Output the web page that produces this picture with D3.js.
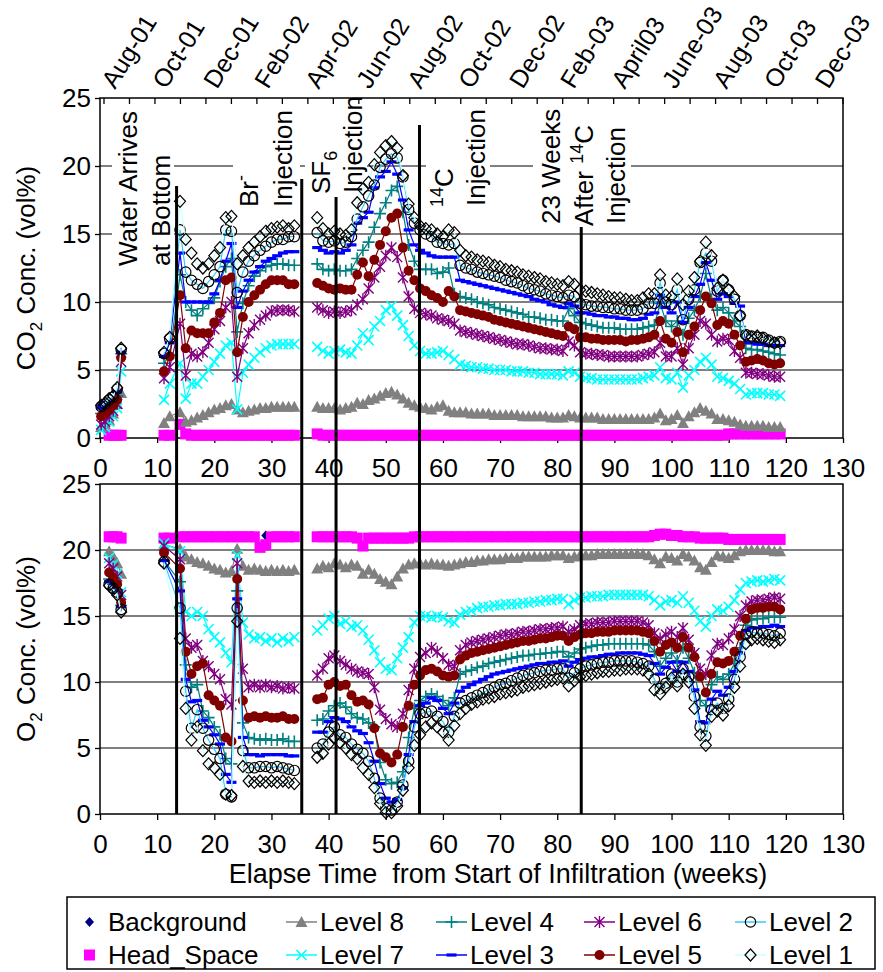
<!DOCTYPE html>
<html>
<head>
<meta charset="utf-8">
<script src="https://cdn.jsdelivr.net/npm/d3@7"></script>
<style>
  body { margin: 0; background: #fff; }
  svg text { font-family: "Liberation Sans", Arial, sans-serif; fill: #000; }
</style>
</head>
<body>
<svg id="chart" width="883" height="972"></svg>
<script>
// ---- sampling times (weeks since start of infiltration) ----
const weeks = [
  0.2, 0.9, 1.6, 2.3, 3.0, 3.7,
  11.2, 12.2,
  14, 15, 16, 17, 18, 19, 20, 21, 22, 23, 24, 25, 26, 27, 28, 29, 30, 31, 32, 33, 34,
  38, 39,
  40, 41, 42, 43, 44, 45, 46, 47, 48, 49,
  50, 51, 52, 53, 54, 55, 56, 57, 58, 59,
  60, 61, 62, 63, 64, 65, 66, 67, 68, 69,
  70, 71, 72, 73, 74, 75, 76, 77, 78, 79,
  80, 81, 82, 83, 84, 85, 86, 87, 88, 89,
  90, 91, 92, 93, 94, 95, 96, 97, 98, 99,
  100, 101, 102, 103, 104, 105, 106, 107, 108, 109,
  110, 111, 112, 113, 114, 115, 116, 117, 118, 119
];

// ---- CO2 concentration (vol%) ----
const co2Background = [2.4, 2.3];
const co2HeadSpace = [
  null, null, 0.2, 0.2, 0.2, 0.2,  0.2, 0.2,
  1.0, 0.3, 0.2, 0.2, 0.2, 0.2, 0.2, 0.2, 0.2, 0.2,  0.2, 0.2, 0.2, 0.2, 0.2, 0.2, 0.2, 0.2, 0.2, 0.2,  0.2,
  0.3, 0.2,
  0.2, 0.2, 0.2, 0.2, 0.2, 0.2, 0.2, 0.2, 0.2, 0.2,
  0.2, 0.2, 0.2, 0.2, 0.2, 0.2, 0.2, 0.2, 0.2, 0.2,
  0.2, 0.2, 0.2, 0.2, 0.2, 0.2, 0.2, 0.2, 0.2, 0.2,
  0.2, 0.2, 0.2, 0.2, 0.2, 0.2, 0.2, 0.2, 0.2, 0.2,
  0.2, 0.2, 0.2, 0.2, 0.2, 0.2, 0.2, 0.2, 0.2, 0.2,
  0.2, 0.2, 0.2, 0.2, 0.2, 0.2, 0.2, 0.2, 0.2, 0.2,
  0.2, 0.2, 0.2, 0.2, 0.2, 0.2, 0.2, 0.2, 0.2, 0.2,
  0.3, 0.3, 0.3, 0.3, 0.3, 0.3, 0.3, 0.3, 0.3, 0.3
];
const co2Level8 = [
  0.8, 1.0, 1.3, 1.8, 2.5, 3.3,  1.1, 1.6,
  1.9, 1.2, 1.3, 1.5, 1.7, 1.9, 2.1, 2.2, 2.4, 2.5,  2.1, 1.9, 2.0, 2.1, 2.2, 2.2, 2.3, 2.3, 2.3, 2.3,  2.3,
  2.3, 2.2,
  2.2, 2.2, 2.1, 2.2, 2.3, 2.6, 2.5, 2.8, 2.9, 3.1,
  3.3, 3.4, 3.2, 2.9, 2.6, 2.4, 2.3, 2.2, 2.1, 2.3,
  2.4, 2.0, 1.9, 1.9, 1.9, 1.8, 1.8, 1.8, 1.8, 1.7,
  1.7, 1.7, 1.7, 1.7, 1.6, 1.6, 1.6, 1.6, 1.6, 1.5,
  1.5, 1.5, 1.7, 1.6, 1.5, 1.5, 1.5, 1.5, 1.4, 1.4,
  1.4, 1.4, 1.4, 1.4, 1.4, 1.4, 1.4, 1.5, 1.8, 1.3,
  1.4, 1.7, 1.1, 1.6, 1.9, 2.2, 2.0, 1.8, 1.4, 1.4,
  1.3, 1.2, 1.0, 0.9, 0.9, 0.9, 0.9, 0.8, 0.8, 0.8
];
const co2Level7 = [
  0.6, 0.8, 1.2, 1.6, 2.2, 4.9,  2.8, 4.0,
  5.5, 2.9, 4.0, 4.0, 4.5, 5.0, 5.6, 6.2, 6.8, 7.0,  2.1, 4.8, 5.4, 5.9, 6.3, 6.6, 6.8, 6.9, 6.9, 6.9,  6.9,
  6.7, 6.4,
  6.2, 6.4, 6.5, 6.3, 6.2, 6.8, 7.7, 7.2, 8.2, 8.6,
  9.4, 9.7, 9.0, 8.3, 7.5, 6.8, 6.4, 6.2, 6.2, 6.3,
  6.4, 6.1, 5.8, 5.4, 5.3, 5.2, 5.2, 5.1, 5.1, 5.0,
  5.0, 5.0, 4.9, 4.9, 4.9, 4.8, 4.8, 4.7, 4.7, 4.7,
  4.7, 4.6, 4.9, 4.8, 4.5, 4.4, 4.4, 4.3, 4.3, 4.3,
  4.3, 4.3, 4.3, 4.3, 4.3, 4.4, 4.5, 4.6, 5.2, 4.4,
  4.3, 4.8, 3.7, 4.6, 5.0, 5.6, 5.9, 5.4, 4.5, 4.4,
  4.2, 4.0, 3.6, 3.2, 3.3, 3.3, 3.3, 3.2, 3.2, 3.1
];
const co2Level4 = [
  1.8, 2.0, 2.3, 2.6, 3.1, 6.2,  5.5, 6.1,
  12.0, 10.0, 9.4, 9.0, 9.5, 9.9, 10.3, 11.5, 12.6, 13.2,  7.8, 9.9, 11.2, 11.9, 12.3, 12.6, 12.7, 12.8, 12.8, 12.7,  12.7,
  12.8, 12.4,
  12.3, 12.4, 12.3, 12.3, 12.4, 13.2, 13.8, 14.4, 15.5, 16.5,
  17.3, 18.2, 18.5, 16.6, 14.2, 13.0, 12.4, 12.4, 12.4, 12.1,
  12.2, 12.5, 10.6, 10.4, 10.3, 10.2, 10.0, 9.9, 9.8, 9.6,
  9.5, 9.4, 9.3, 9.2, 9.1, 8.9, 8.9, 8.8, 8.7, 8.7,
  8.6, 8.6, 9.5, 9.0, 8.5, 8.4, 8.3, 8.2, 8.1, 8.1,
  8.1, 8.0, 8.0, 8.0, 8.0, 8.1, 8.2, 8.3, 9.9, 8.6,
  8.2, 8.6, 7.6, 8.8, 9.4, 10.4, 12.1, 10.2, 9.4, 9.6,
  9.2, 8.6, 8.2, 6.6, 6.5, 6.5, 6.4, 6.3, 6.2, 6.1
];
const co2Level3 = [
  2.2, 2.3, 2.6, 2.9, 3.4, 6.3,  6.0, 7.0,
  13.6, 10.0, 10.0, 10.0, 10.0, 10.0, 10.6, 11.6, 13.0, 14.3,  9.6, 10.8, 11.6, 12.2, 12.6, 13.0, 13.2, 13.4, 13.6, 13.7,  13.7,
  14.0, 13.8,
  13.6, 13.7, 13.6, 13.8, 14.2, 15.8, 16.2, 16.6, 18.4, 19.2,
  19.6, 20.3, 19.4, 17.5, 15.3, 14.2, 13.8, 13.6, 13.4, 13.3,
  13.3, 13.3, 13.3, 11.6, 11.5, 11.4, 11.3, 11.2, 11.1, 11.0,
  10.9, 10.8, 10.7, 10.6, 10.5, 10.4, 10.2, 10.1, 10.0, 9.8,
  9.7, 9.6, 9.9, 9.7, 9.2, 9.2, 9.1, 9.0, 9.0, 8.9,
  8.9, 8.8, 8.8, 8.7, 8.7, 8.8, 9.1, 9.2, 10.5, 9.6,
  9.2, 10.0, 8.5, 9.6, 10.4, 11.3, 12.9, 11.6, 10.2, 10.6,
  10.4, 9.9, 9.7, 7.0, 7.0, 6.9, 6.9, 6.8, 6.8, 6.8
];
const co2Level6 = [
  1.0, 1.2, 1.6, 2.0, 2.5, 5.6,  4.4, 5.2,
  8.4, 4.6, 6.2, 6.0, 6.3, 7.0, 8.0, 8.6, 9.6, 10.0,  4.5, 6.6, 7.7, 8.3, 8.7, 9.0, 9.3, 9.4, 9.4, 9.4,  9.3,
  9.6, 9.4,
  9.2, 9.3, 9.2, 9.3, 9.4, 9.8, 10.2, 11.0, 11.8, 12.6,
  13.4, 14.0, 13.3, 11.8, 10.4, 9.5, 9.2, 9.1, 9.0, 8.8,
  8.7, 8.6, 8.4, 7.9, 7.8, 7.7, 7.6, 7.5, 7.4, 7.3,
  7.2, 7.1, 7.0, 6.9, 6.9, 6.8, 6.7, 6.6, 6.6, 6.5,
  6.5, 6.4, 7.1, 6.8, 6.3, 6.2, 6.2, 6.1, 6.1, 6.0,
  6.0, 6.0, 6.0, 6.0, 6.0, 6.1, 6.2, 6.3, 7.0, 6.0,
  6.0, 6.6, 5.4, 6.6, 7.6, 8.6, 8.4, 7.6, 7.1, 7.3,
  7.2, 6.4, 5.9, 4.8, 4.8, 4.7, 4.7, 4.6, 4.5, 4.5
];
const co2Level5 = [
  1.6, 1.8, 2.1, 2.4, 2.8, 5.9,  4.9, 6.0,
  10.5, 6.6, 7.9, 7.7, 7.7, 7.7, 8.5, 9.2, 11.6, 11.8,  6.3, 8.9, 10.0, 10.5, 10.9, 11.3, 11.6, 11.6, 11.6, 11.3,  11.3,
  11.4, 11.2,
  11.0, 10.9, 11.0, 10.9, 10.9, 12.0, 12.9, 11.9, 13.1, 14.2,
  15.2, 16.2, 16.5, 14.0, 12.3, 11.6, 11.0, 10.8, 10.5, 10.3,
  10.0, 10.8, 10.4, 9.4, 9.3, 9.2, 9.1, 9.0, 8.9, 8.7,
  8.6, 8.5, 8.4, 8.3, 8.2, 8.1, 8.0, 7.9, 7.8, 7.7,
  7.6, 7.5, 8.2, 8.0, 7.4, 7.4, 7.3, 7.3, 7.2, 7.2,
  7.2, 7.2, 7.1, 7.2, 7.2, 7.3, 7.4, 7.6, 8.6, 7.3,
  7.0, 7.8, 6.3, 7.6, 8.2, 9.4, 10.4, 9.9, 8.3, 8.6,
  8.4, 7.6, 6.8, 5.6, 5.7, 5.8, 5.7, 5.5, 5.4, 5.5
];
const co2Level2 = [
  2.3, 2.5, 2.8, 3.0, 3.6, 6.5,  6.2, 7.3,
  15.3, 12.2, 11.6, 11.3, 11.0, 11.5, 12.0, 12.6, 15.3, 15.2,  10.7, 12.2, 13.0, 13.4, 13.8, 14.1, 14.4, 14.6, 14.6, 14.8,  14.8,
  15.1, 14.5,
  14.4, 14.5, 14.3, 14.4, 14.8, 16.1, 17.0, 17.8, 18.6, 19.9,
  20.5, 20.9, 20.6, 19.2, 16.8, 15.8, 15.3, 15.0, 14.8, 14.4,
  14.3, 14.2, 14.3, 12.7, 12.5, 12.4, 12.2, 12.1, 12.0, 11.9,
  11.8, 11.6, 11.5, 11.4, 11.2, 11.0, 10.9, 10.8, 10.6, 10.5,
  10.4, 10.3, 10.5, 10.4, 9.9, 9.8, 9.7, 9.7, 9.6, 9.6,
  9.5, 9.5, 9.4, 9.4, 9.4, 9.5, 9.9, 9.9, 11.4, 10.0,
  9.8, 10.9, 8.7, 10.2, 10.9, 12.9, 13.6, 13.0, 10.8, 11.6,
  10.9, 10.2, 9.0, 7.6, 7.5, 7.4, 7.4, 7.2, 7.0, 7.1
];
const co2Level1 = [
  2.4, 2.6, 2.9, 3.1, 3.7, 6.6,  6.3, 7.4,
  17.4, 14.6, 13.6, 12.8, 12.5, 12.8, 13.4, 14.0, 16.2, 16.3,  12.8, 13.4, 14.0, 14.4, 14.8, 15.2, 15.4, 15.5, 15.6, 15.4,  15.6,
  16.2, 15.4,
  15.0, 15.2, 15.0, 14.9, 15.3, 17.3, 18.3, 18.8, 20.1, 21.0,
  21.5, 21.8, 21.3, 19.3, 17.2, 16.2, 15.6, 15.4, 15.3, 15.0,
  14.8, 15.3, 15.1, 13.8, 13.4, 13.3, 13.1, 13.0, 12.9, 12.7,
  12.6, 12.4, 12.3, 12.2, 12.0, 11.9, 11.8, 11.7, 11.5, 11.4,
  11.3, 11.2, 11.5, 11.3, 10.9, 10.8, 10.7, 10.6, 10.5, 10.4,
  10.3, 10.3, 10.2, 10.1, 10.1, 10.3, 10.6, 10.6, 12.0, 10.5,
  10.4, 11.7, 9.8, 10.8, 11.8, 13.0, 14.4, 13.4, 11.0, 11.6,
  10.9, 10.4, 9.0, 7.5, 7.4, 7.5, 7.3, 7.1, 7.0, 7.0
];

// ---- O2 concentration (vol%) ----
const o2Background = [
  null, null, null, null, null, null,  null, null,
  null, null, null, null, null, null, null, null, null, null,  null, null, null, null, null, 21.1
];
const o2HeadSpace = [
  null, null, 21.0, 21.0, 21.0, 20.9,  20.9, 20.9,
  21.0, 21.0, 21.0, 21.0, 21.0, 21.0, 21.0, 21.0, 21.0, 21.0,  21.0, 21.0, 21.0, 21.0, 20.2, 20.4, 21.0, 21.0, 21.0, 21.0,  21.0,
  21.0, 21.0,
  21.0, 21.0, 21.0, 21.0, 21.0, 20.9, 20.3, 20.9, 20.9, 20.9,
  20.9, 20.9, 20.9, 20.9, 20.9, 21.0, 21.0, 21.0, 21.0, 21.0,
  21.0, 21.0, 21.0, 21.0, 21.0, 21.0, 21.0, 21.0, 21.0, 21.0,
  21.0, 21.0, 21.0, 21.0, 21.0, 21.0, 21.0, 21.0, 21.0, 21.0,
  21.0, 21.0, 21.0, 21.0, 21.0, 21.0, 21.0, 21.0, 21.0, 21.0,
  21.0, 21.0, 21.0, 21.0, 21.0, 21.0, 21.0, 21.1, 21.2, 21.2,
  21.1, 21.1, 21.0, 21.0, 21.0, 20.9, 20.9, 20.9, 20.9, 20.9,
  20.8, 20.8, 20.8, 20.8, 20.8, 20.8, 20.8, 20.8, 20.8, 20.8
];
const o2Level8 = [
  null, null, 19.9, 19.5, 19.0, 18.2,  20.4, null,
  20.1, 19.5, 19.3, 19.1, 19.0, 18.8, 18.6, 18.5, 18.3, 18.4,  20.1, 18.8, 18.5, 18.6, 18.5, 18.4, 18.5, 18.4, 18.5, 18.4,  18.5,
  18.6, 18.8,
  18.7, 19.0, 18.9, 18.7, 18.9, 18.8, 18.2, 18.5, 18.2, 17.8,
  17.6, 17.4, 18.0, 18.6, 18.9, 19.0, 19.0, 18.9, 19.0, 18.9,
  18.9, 18.8, 18.9, 19.0, 19.1, 19.1, 19.2, 19.2, 19.3, 19.3,
  19.3, 19.4, 19.4, 19.4, 19.5, 19.5, 19.5, 19.5, 19.5, 19.6,
  19.6, 19.6, 19.4, 19.5, 19.6, 19.6, 19.6, 19.7, 19.7, 19.7,
  19.7, 19.7, 19.7, 19.7, 19.7, 19.7, 19.6, 19.3, 19.0, 19.5,
  19.4, 19.2, 19.7, 19.5, 19.2, 18.7, 18.5, 19.1, 19.6, 19.5,
  19.4, 19.6, 19.9, 20.0, 20.0, 20.0, 20.0, 20.0, 19.9, 19.9
];
const o2Level7 = [
  null, null, 19.4, 18.9, 18.2, 16.8,  20.5, null,
  19.9, 15.3, 15.0, 15.3, 15.0, 14.0, 13.4, 13.0, 12.2, 11.5,  19.6, 14.5, 13.6, 13.3, 13.4, 13.1, 13.3, 13.0, 13.3, 13.1,  13.4,
  13.9, 14.3,
  14.8, 15.0, 14.4, 14.6, 14.2, 14.3, 13.9, 13.2, 12.4, 11.5,
  11.0, 10.9, 11.8, 12.6, 13.4, 14.5, 15.0, 15.0, 14.9, 15.0,
  14.9, 14.6, 14.5, 15.1, 15.3, 15.4, 15.6, 15.7, 15.7, 15.8,
  15.8, 15.9, 15.9, 15.9, 16.0, 16.0, 16.1, 16.1, 16.2, 16.2,
  16.3, 16.3, 15.9, 16.2, 16.4, 16.4, 16.5, 16.5, 16.5, 16.6,
  16.6, 16.6, 16.6, 16.6, 16.6, 16.6, 16.5, 16.2, 15.8, 16.1,
  16.2, 16.0, 16.5, 16.0, 15.4, 14.6, 14.2, 15.0, 15.5, 15.4,
  15.7, 16.2, 17.0, 17.5, 17.6, 17.7, 17.6, 17.7, 17.8, 17.7
];
const o2Level4 = [
  null, null, 17.8, 17.4, 17.0, 15.8,  19.2, null,
  17.6, 11.3, 9.6, 9.8, 7.8, 7.3, 6.6, 6.0, 4.2, 3.8,  16.9, 6.9, 5.8, 5.7, 5.6, 5.7, 5.6, 5.6, 5.7, 5.5,  5.5,
  7.1, 7.2,
  7.8, 8.2, 8.4, 8.1, 7.6, 7.3, 7.2, 6.9, 6.6, 3.9,
  2.6, 2.3, 2.4, 3.2, 5.8, 8.0, 8.6, 8.9, 9.1, 8.9,
  8.6, 8.2, 8.8, 10.6, 10.8, 10.9, 11.1, 11.2, 11.4, 11.5,
  11.6, 11.7, 11.8, 11.9, 12.0, 12.0, 12.1, 12.1, 12.2, 12.2,
  12.3, 12.3, 11.9, 12.2, 12.5, 12.6, 12.7, 12.8, 12.8, 12.9,
  12.9, 12.9, 12.9, 12.9, 12.9, 12.9, 12.8, 12.3, 11.2, 11.8,
  12.2, 11.6, 12.6, 11.8, 10.7, 8.6, 8.2, 9.8, 10.4, 10.2,
  10.6, 11.4, 12.6, 14.3, 14.7, 14.8, 14.8, 14.9, 14.9, 14.9
];
const o2Level3 = [
  null, null, 17.6, 17.2, 16.8, 15.7,  19.2, null,
  16.9, 10.2, 8.5, 8.6, 7.1, 6.6, 6.0, 5.3, 3.0, 2.4,  16.3, 5.8, 4.5, 4.5, 4.4, 4.5, 4.5, 4.5, 4.5, 4.4,  4.4,
  6.2, 6.2,
  7.0, 7.3, 7.2, 7.0, 6.6, 6.3, 6.1, 5.4, 4.0, 2.3,
  1.2, 0.9, 1.1, 2.0, 4.5, 7.0, 8.2, 8.4, 8.8, 8.6,
  8.0, 7.6, 8.4, 9.3, 9.6, 9.8, 10.0, 10.2, 10.4, 10.6,
  10.7, 10.8, 10.9, 11.0, 11.1, 11.2, 11.3, 11.4, 11.4, 11.5,
  11.5, 11.6, 11.2, 11.5, 11.7, 11.8, 11.9, 11.9, 12.0, 12.1,
  12.1, 12.2, 12.2, 12.2, 12.2, 12.1, 12.0, 11.4, 10.6, 11.1,
  11.5, 10.8, 11.5, 10.8, 9.4, 7.0, 6.9, 8.7, 9.3, 9.0,
  9.6, 10.8, 12.2, 13.9, 14.1, 14.1, 14.2, 14.2, 14.3, 14.2
];
const o2Level6 = [
  null, null, 19.0, 18.6, 18.0, 16.6,  20.3, null,
  19.3, 13.3, 12.6, 12.8, 11.6, 11.2, 10.6, 10.2, 8.7, 8.3,  19.0, 11.0, 9.6, 9.8, 9.6, 9.8, 9.6, 9.7, 9.5, 9.6,  9.5,
  10.5, 11.0,
  11.8, 12.0, 11.6, 11.3, 11.0, 10.8, 10.7, 10.6, 9.6, 7.9,
  7.2, 6.8, 6.6, 7.6, 9.4, 11.0, 11.9, 12.2, 12.6, 12.3,
  11.8, 11.3, 11.2, 12.4, 12.8, 13.0, 13.1, 13.2, 13.3, 13.4,
  13.5, 13.6, 13.6, 13.7, 13.8, 13.8, 13.9, 14.0, 14.0, 14.1,
  14.1, 14.2, 13.8, 14.0, 14.3, 14.4, 14.4, 14.5, 14.5, 14.5,
  14.6, 14.6, 14.6, 14.6, 14.6, 14.5, 14.3, 13.7, 13.3, 13.6,
  13.8, 13.4, 14.1, 13.2, 12.2, 11.0, 10.6, 12.0, 12.9, 12.8,
  13.3, 14.0, 15.0, 15.8, 16.1, 16.2, 16.2, 16.3, 16.4, 16.3
];
const o2Level5 = [
  null, null, 18.3, 17.9, 17.4, 16.0,  19.8, null,
  18.6, 12.3, 10.6, 11.2, 11.4, 9.0, 8.6, 8.2, 5.8, 5.5,  17.8, 8.6, 7.3, 7.4, 7.3, 7.4, 7.3, 7.3, 7.4, 7.2,  7.2,
  8.7, 8.8,
  9.8, 10.0, 9.7, 9.8, 9.0, 8.5, 8.6, 8.3, 6.5, 4.6,
  4.3, 3.9, 4.5, 6.6, 8.2, 9.8, 10.5, 10.9, 11.0, 10.8,
  10.5, 10.4, 10.5, 11.7, 12.0, 12.2, 12.3, 12.4, 12.5, 12.6,
  12.7, 12.8, 12.9, 13.0, 13.1, 13.1, 13.2, 13.3, 13.3, 13.4,
  13.5, 13.5, 13.1, 13.4, 13.6, 13.7, 13.7, 13.8, 13.8, 13.8,
  13.9, 13.9, 13.9, 13.9, 13.9, 13.8, 13.7, 13.1, 12.3, 12.8,
  13.0, 12.6, 13.4, 12.6, 11.9, 10.4, 9.2, 10.6, 11.5, 11.4,
  11.6, 12.3, 13.5, 14.8, 15.5, 15.6, 15.6, 15.7, 15.7, 15.5
];
const o2Level2 = [
  null, null, 17.4, 17.1, 16.8, 15.5,  19.1, null,
  15.6, 9.3, 6.5, 7.9, 6.5, 5.6, 4.9, 4.2, 1.5, 1.3,  15.6, 4.8, 3.5, 3.5, 3.6, 3.6, 3.5, 3.6, 3.5, 3.4,  3.3,
  5.0, 5.3,
  6.2, 6.6, 6.0, 5.8, 5.3, 4.9, 4.6, 4.0, 2.7, 1.2,
  0.4, 0.3, 0.9, 2.2, 4.0, 6.6, 7.6, 7.7, 7.8, 7.4,
  7.0, 6.2, 7.4, 8.4, 8.6, 8.8, 9.0, 9.2, 9.4, 9.6,
  9.8, 9.9, 10.1, 10.3, 10.5, 10.6, 10.7, 10.8, 10.9, 10.9,
  11.0, 11.0, 10.3, 10.7, 11.0, 11.2, 11.3, 11.4, 11.5, 11.5,
  11.6, 11.6, 11.6, 11.6, 11.5, 11.4, 11.2, 10.2, 9.5, 9.9,
  10.6, 10.0, 11.0, 10.4, 8.9, 6.6, 5.9, 7.9, 8.4, 8.0,
  8.7, 10.2, 11.9, 13.6, 13.8, 13.7, 13.7, 13.6, 13.5, 13.7
];
const o2Level1 = [
  null, null, 17.3, 17.0, 16.6, 15.3,  19.0, null,
  13.3, 8.0, 5.6, 6.6, 4.8, 3.8, 3.5, 3.0, 1.5, 1.4,  14.6, 3.6, 2.5, 2.4, 2.5, 2.4, 2.5, 2.4, 2.5, 2.4,  2.3,
  4.3, 4.6,
  5.3, 5.8, 5.4, 5.0, 4.5, 4.2, 3.5, 3.0, 2.0, 0.8,
  0.1, 0.1, 0.6, 1.8, 3.5, 5.2, 6.0, 6.6, 6.9, 6.6,
  6.2, 5.6, 6.7, 7.6, 8.0, 8.3, 8.5, 8.7, 8.8, 8.9,
  9.1, 9.2, 9.3, 9.4, 9.6, 9.7, 9.8, 9.9, 10.0, 10.1,
  10.2, 10.3, 9.7, 10.1, 10.4, 10.5, 10.6, 10.7, 10.8, 10.8,
  10.9, 10.9, 11.0, 11.0, 11.0, 10.9, 10.6, 9.4, 9.1, 9.6,
  10.3, 9.7, 10.6, 10.0, 8.0, 6.0, 5.2, 7.4, 7.8, 7.5,
  8.2, 9.6, 11.2, 12.9, 13.2, 13.3, 13.2, 13.1, 13.0, 13.2
];

// ---- axis labels and events ----
const weekTicks = [0, 10, 20, 30, 40, 50, 60, 70, 80, 90, 100, 110, 120, 130];
const concTicks = [0, 5, 10, 15, 20, 25];
const dateLabels = ['Aug-01', 'Oct-01', 'Dec-01', 'Feb-02', 'Apr-02', 'Jun-02', 'Aug-02', 'Oct-02',
                    'Dec-02', 'Feb-03', 'April03', 'June-03', 'Aug-03', 'Oct-03', 'Dec-03'];
const monthCount = 30;           // monthly tick marks on the calendar axis
const eventWeeks = [13.4, 35.3, 41.3, 55.9, 84.2];

// ---------------------------------------------------------------
const FONT = 26;
const svg = d3.select('#chart');

const x = d3.scaleLinear().domain([0, 130]).range([100, 843]);
const yTop = d3.scaleLinear().domain([0, 25]).range([438, 98]);
const yBot = d3.scaleLinear().domain([0, 25]).range([814, 484]);
const xMonth = d3.scaleLinear().domain([0, monthCount - 1]).range([104, 843]);

const series = [
  { name: 'Background', co2: co2Background, o2: o2Background, marker: 'diamondFill', color: '#000080', line: null },
  { name: 'Head_Space', co2: co2HeadSpace, o2: o2HeadSpace, marker: 'square', color: '#FF00FF', line: null },
  { name: 'Level 8', co2: co2Level8, o2: o2Level8, marker: 'triangle', color: '#808080', line: '#808080' },
  { name: 'Level 7', co2: co2Level7, o2: o2Level7, marker: 'x', color: '#00FFFF', line: '#00FFFF' },
  { name: 'Level 4', co2: co2Level4, o2: o2Level4, marker: 'plus', color: '#008080', line: '#008080' },
  { name: 'Level 3', co2: co2Level3, o2: o2Level3, marker: 'dash', color: '#0000FF', line: '#0000FF' },
  { name: 'Level 6', co2: co2Level6, o2: o2Level6, marker: 'star', color: '#800080', line: '#800080' },
  { name: 'Level 5', co2: co2Level5, o2: o2Level5, marker: 'dot', color: '#800000', line: '#800000' },
  { name: 'Level 2', co2: co2Level2, o2: o2Level2, marker: 'circle', color: '#000000', line: '#33CCFF' },
  { name: 'Level 1', co2: co2Level1, o2: o2Level1, marker: 'diamond', color: '#000000', line: '#CCFFFF' }
];

function drawMarker(g, type, cx, cy, color) {
  switch (type) {
    case 'diamondFill':
      g.append('path').attr('d', `M${cx},${cy - 5}L${cx + 4.5},${cy}L${cx},${cy + 5}L${cx - 4.5},${cy}Z`).attr('fill', color);
      break;
    case 'square':
      g.append('rect').attr('x', cx - 5.5).attr('y', cy - 5.5).attr('width', 11).attr('height', 11).attr('fill', color);
      break;
    case 'triangle':
      g.append('path').attr('d', `M${cx},${cy - 6}L${cx + 6},${cy + 5}L${cx - 6},${cy + 5}Z`).attr('fill', color);
      break;
    case 'x':
      g.append('path').attr('d', `M${cx - 5},${cy - 5}L${cx + 5},${cy + 5}M${cx + 5},${cy - 5}L${cx - 5},${cy + 5}`)
        .attr('stroke', color).attr('stroke-width', 1.6).attr('fill', 'none');
      break;
    case 'plus':
      g.append('path').attr('d', `M${cx - 6},${cy}L${cx + 6},${cy}M${cx},${cy - 6}L${cx},${cy + 6}`)
        .attr('stroke', color).attr('stroke-width', 1.6).attr('fill', 'none');
      break;
    case 'dash':
      g.append('rect').attr('x', cx - 5).attr('y', cy - 1.6).attr('width', 10).attr('height', 3.2).attr('fill', color);
      break;
    case 'star':
      g.append('path').attr('d', `M${cx - 5},${cy - 5}L${cx + 5},${cy + 5}M${cx + 5},${cy - 5}L${cx - 5},${cy + 5}M${cx},${cy - 6}L${cx},${cy + 6}`)
        .attr('stroke', color).attr('stroke-width', 1.4).attr('fill', 'none');
      break;
    case 'dot':
      g.append('circle').attr('cx', cx).attr('cy', cy).attr('r', 5).attr('fill', color);
      break;
    case 'circle':
      g.append('circle').attr('cx', cx).attr('cy', cy).attr('r', 5.2).attr('fill', 'none')
        .attr('stroke', color).attr('stroke-width', 1.2);
      break;
    case 'diamond':
      g.append('path').attr('d', `M${cx},${cy - 6}L${cx + 5.5},${cy}L${cx},${cy + 6}L${cx - 5.5},${cy}Z`)
        .attr('fill', 'none').attr('stroke', color).attr('stroke-width', 1.2);
      break;
  }
}

// points of one series; a pause of more than three weeks starts a new line segment
function segmentsOf(values) {
  const pts = weeks.map((w, i) => ({ w, v: values[i] }))
    .filter(d => d.v !== null && d.v !== undefined);
  const segs = [];
  pts.forEach((p, i) => {
    if (i === 0 || p.w - pts[i - 1].w > 3) segs.push([]);
    segs[segs.length - 1].push(p);
  });
  return { pts, segs };
}

function drawGrid(y, x0, x1) {
  svg.append('g').selectAll('line').data([5, 10, 15, 20]).enter().append('line')
    .attr('x1', x0).attr('x2', x1).attr('y1', d => y(d)).attr('y2', d => y(d))
    .attr('stroke', '#000').attr('stroke-width', 1.2);
}
drawGrid(yTop, 100, 843);
drawGrid(yBot, 100, 843);

// white label boxes (they hide the grid behind the annotations)
const noteBoxes = [
  [112, 100, 62, 170], [233, 100, 67, 112], [305, 100, 62, 98], [426, 100, 64, 112], [533, 100, 98, 130]
];
svg.append('g').selectAll('rect').data(noteBoxes).enter().append('rect')
  .attr('x', d => d[0]).attr('y', d => d[1]).attr('width', d => d[2]).attr('height', d => d[3])
  .attr('fill', '#fff');

// frames
const frame = svg.append('g').attr('stroke', '#000').attr('fill', 'none');
frame.append('path').attr('d', 'M100,98H843V438H100Z').attr('stroke-width', 1.5);
frame.append('path').attr('d', 'M100,484H843V814H100Z').attr('stroke-width', 1.5);

// axes (ticks + labels)
function styleAxis(sel) {
  sel.select('.domain').remove();
  sel.selectAll('text').attr('font-size', FONT).attr('font-family', '"Liberation Sans", Arial, sans-serif').attr('fill', '#000');
  sel.selectAll('line').attr('stroke', '#000').attr('stroke-width', 1.3);
}
svg.append('g').attr('transform', 'translate(100,0)')
  .call(d3.axisLeft(yTop).tickValues(concTicks).tickSize(5).tickPadding(4).tickFormat(d3.format('d')))
  .call(styleAxis);
svg.append('g').attr('transform', 'translate(100,0)')
  .call(d3.axisLeft(yBot).tickValues(concTicks).tickSize(5).tickPadding(4).tickFormat(d3.format('d')))
  .call(styleAxis);
svg.append('g').attr('transform', 'translate(0,438)')
  .call(d3.axisBottom(x).tickValues(weekTicks).tickSize(5).tickPadding(16).tickFormat(d3.format('d')))
  .call(styleAxis);
svg.append('g').attr('transform', 'translate(0,814)')
  .call(d3.axisBottom(x).tickValues(weekTicks).tickSize(6).tickPadding(15).tickFormat(d3.format('d')))
  .call(styleAxis);

// calendar axis along the top
const gCal = svg.append('g');
gCal.selectAll('line').data(d3.range(monthCount)).enter().append('line')
  .attr('x1', d => xMonth(d)).attr('x2', d => xMonth(d)).attr('y1', 98).attr('y2', 104)
  .attr('stroke', '#000').attr('stroke-width', 1.3);
gCal.selectAll('text').data(dateLabels).enter().append('text')
  .attr('transform', (d, i) => `translate(${xMonth(i * 2) + 11},90) rotate(-58)`)
  .attr('font-size', 25).text(d => d);

// data
function drawSeries(key, y) {
  const g = svg.append('g');
  const line = d3.line().x(d => x(d.w)).y(d => y(d.v));
  series.forEach(s => {
    const { pts, segs } = segmentsOf(s[key]);
    if (s.line) {
      segs.forEach(seg => {
        g.append('path').attr('d', line(seg)).attr('fill', 'none')
          .attr('stroke', s.line).attr('stroke-width', 1.2);
      });
    }
    const gm = g.append('g');
    pts.forEach(p => drawMarker(gm, s.marker, x(p.w), y(p.v), s.color));
  });
}
drawSeries('co2', yTop);
drawSeries('o2', yBot);

// event lines
const eventTops = [186, 179, 197, 125, 227];
svg.append('g').selectAll('line').data(eventWeeks).enter().append('line')
  .attr('x1', d => x(d)).attr('x2', d => x(d))
  .attr('y1', (d, i) => eventTops[i]).attr('y2', 814)
  .attr('stroke', '#000').attr('stroke-width', 3);

// annotations (vertical text, reading upward)
function vtext(bx, by, parts) {
  const t = svg.append('text').attr('transform', `translate(${bx},${by}) rotate(-90)`).attr('font-size', FONT);
  parts.forEach(p => {
    const ts = t.append('tspan').text(p.t);
    if (p.size) ts.attr('font-size', p.size);
    if (p.dy) ts.attr('dy', p.dy);
  });
}
vtext(137, 266, [{ t: 'Water Arrives' }]);
vtext(170, 266, [{ t: 'at Bottom' }]);
vtext(258, 207, [{ t: 'Br' }, { t: '-', size: 18, dy: -11 }]);
vtext(292, 207, [{ t: 'Injection' }]);
vtext(330, 194, [{ t: 'SF' }, { t: '6', size: 18, dy: 7 }]);
vtext(362, 193, [{ t: 'Injection' }]);
vtext(453, 207, [{ t: '14', size: 18, dy: -10 }, { t: 'C', dy: 10 }]);
vtext(485, 206, [{ t: 'Injection' }]);
vtext(560, 224, [{ t: '23 Weeks' }]);
vtext(593, 226, [{ t: 'After ' }, { t: '14', size: 18, dy: -10 }, { t: 'C', dy: 10 }]);
vtext(625, 224, [{ t: 'Injection' }]);

// axis titles
function ytitle(cx, cy, gas) {
  const t = svg.append('text').attr('transform', `translate(${cx},${cy}) rotate(-90)`)
    .attr('text-anchor', 'middle').attr('font-size', FONT);
  t.append('tspan').text(gas);
  t.append('tspan').text('2').attr('font-size', 17).attr('dy', 7);
  t.append('tspan').text(' Conc. (vol%)').attr('dy', -7);
}
ytitle(35, 268, 'CO');
ytitle(35, 649, 'O');
svg.append('text').attr('x', 498).attr('y', 883).attr('text-anchor', 'middle').attr('font-size', 27)
  .text('Elapse Time  from Start of Infiltration (weeks)').style('white-space', 'pre');

// legend
const legend = svg.append('g');
legend.append('rect').attr('x', 67).attr('y', 897).attr('width', 808).attr('height', 72)
  .attr('fill', '#fff').attr('stroke', '#000').attr('stroke-width', 1.5);
const legendCols = [74, 286, 436, 584, 735];
const legendRows = [922, 955];
const legendOrder = [0, 2, 4, 6, 8, 1, 3, 5, 7, 9];
legendOrder.forEach((si, k) => {
  const s = series[si];
  const col = k % 5, row = Math.floor(k / 5);
  const lx = legendCols[col], ly = legendRows[row];
  if (s.line) legend.append('line').attr('x1', lx).attr('x2', lx + 31).attr('y1', ly).attr('y2', ly)
    .attr('stroke', s.line).attr('stroke-width', 1.5);
  drawMarker(legend, s.marker, lx + 15.5, ly, s.color);
  legend.append('text').attr('x', lx + 34).attr('y', ly + 9).attr('font-size', FONT).text(s.name);
});
</script>
</body>
</html>
